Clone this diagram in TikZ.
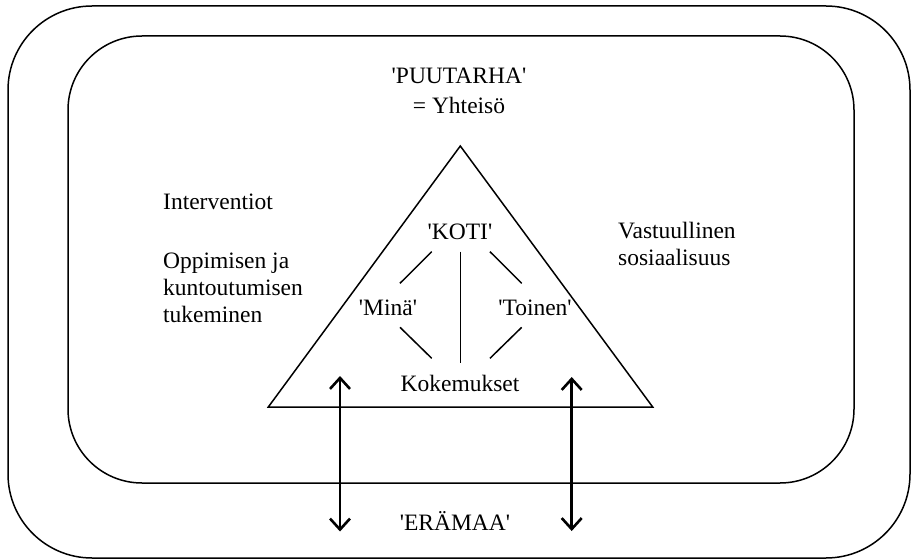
\documentclass[tikz,border=0pt]{standalone}
\usepackage{fontspec}
\setmainfont{Liberation Serif}
\usetikzlibrary{arrows.meta}
\newcommand{\lainaus}[1]{\textquotesingle#1\textquotesingle}
\tikzset{
    puhe/.style={inner sep=0pt, font=\fontsize{23.5}{27}\selectfont},
    kehys/.style={draw=black, line width=1.5pt},
    viiva/.style={draw=black, line width=1.5pt},
    nuoli/.style={draw=black, line width=2.6pt,
        {Straight Barb[length=11pt,width=20pt]}-{Straight Barb[length=11pt,width=20pt]}}
}

\begin{document}
\begin{tikzpicture}[x=1pt, y=-1pt]
        \useasboundingbox (0,0) rectangle (911,559);

        % --- KEHYKSET ---
        \draw[kehys, rounded corners=84pt] (8,6) rectangle (910,558);
        \draw[kehys, rounded corners=74pt] (68,36) rectangle (854,483);

        % --- KOLMIO ---
        \coordinate (huippu) at (460.3,146);
        \coordinate (vasen) at (268.3,407);
        \coordinate (oikea) at (652.7,407);
        \draw[kehys, line join=miter] (huippu) -- (vasen) -- (oikea) -- cycle;

        % --- TEKSTIT (base = viimeisen rivin pohjaviiva) ---
        \node[puhe, anchor=base, align=center] (puutarha) at (459,113.3)
            {\lainaus{PUUTARHA}\\[3pt]= Yhteisö};
        \node[puhe, anchor=base west] (interventiot) at (163,210) {Interventiot};
        \node[puhe, anchor=base west, align=left] (oppiminen) at (163,322)
            {Oppimisen ja\\kuntoutumisen\\tukeminen};
        \node[puhe, anchor=base west, align=left] (vastuu) at (618,265)
            {Vastuullinen\\sosiaalisuus};
        \node[puhe, anchor=base] (koti) at (460,240) {\lainaus{KOTI}};
        \node[puhe, anchor=base] (mina) at (388,315) {\lainaus{Minä}};
        \node[puhe, anchor=base] (toinen) at (535,315) {\lainaus{Toinen}};
        \node[puhe, anchor=base] (kokemukset) at (460,391) {Kokemukset};
        \node[puhe, anchor=base] (eramaa) at (455,530) {\lainaus{ERÄMAA}};

        % --- VIIVAT ---
        \coordinate (km1) at (431.7,251.7);
        \coordinate (km2) at (400,283.3);
        \coordinate (kt1) at (490,251.7);
        \coordinate (kt2) at (521.7,283.3);
        \coordinate (mk1) at (400,327.3);
        \coordinate (mk2) at (431.7,358.3);
        \coordinate (tk1) at (521.7,327.3);
        \coordinate (tk2) at (490,358.3);
        \coordinate (kk1) at (460.7,251.7);
        \coordinate (kk2) at (460.7,362.7);
        \draw[viiva] (km1) -- (km2);
        \draw[viiva] (kt1) -- (kt2);
        \draw[viiva] (mk1) -- (mk2);
        \draw[viiva] (tk1) -- (tk2);
        \draw[viiva] (kk1) -- (kk2);

        % --- NUOLET ---
        \coordinate (n1a) at (340,376);
        \coordinate (n1b) at (340,531.5);
        \coordinate (n2a) at (571.7,377);
        \coordinate (n2b) at (571.7,531);
        \draw[nuoli] (n1a) -- (n1b);
        \draw[nuoli] (n2a) -- (n2b);
    \end{tikzpicture}
\end{document}
